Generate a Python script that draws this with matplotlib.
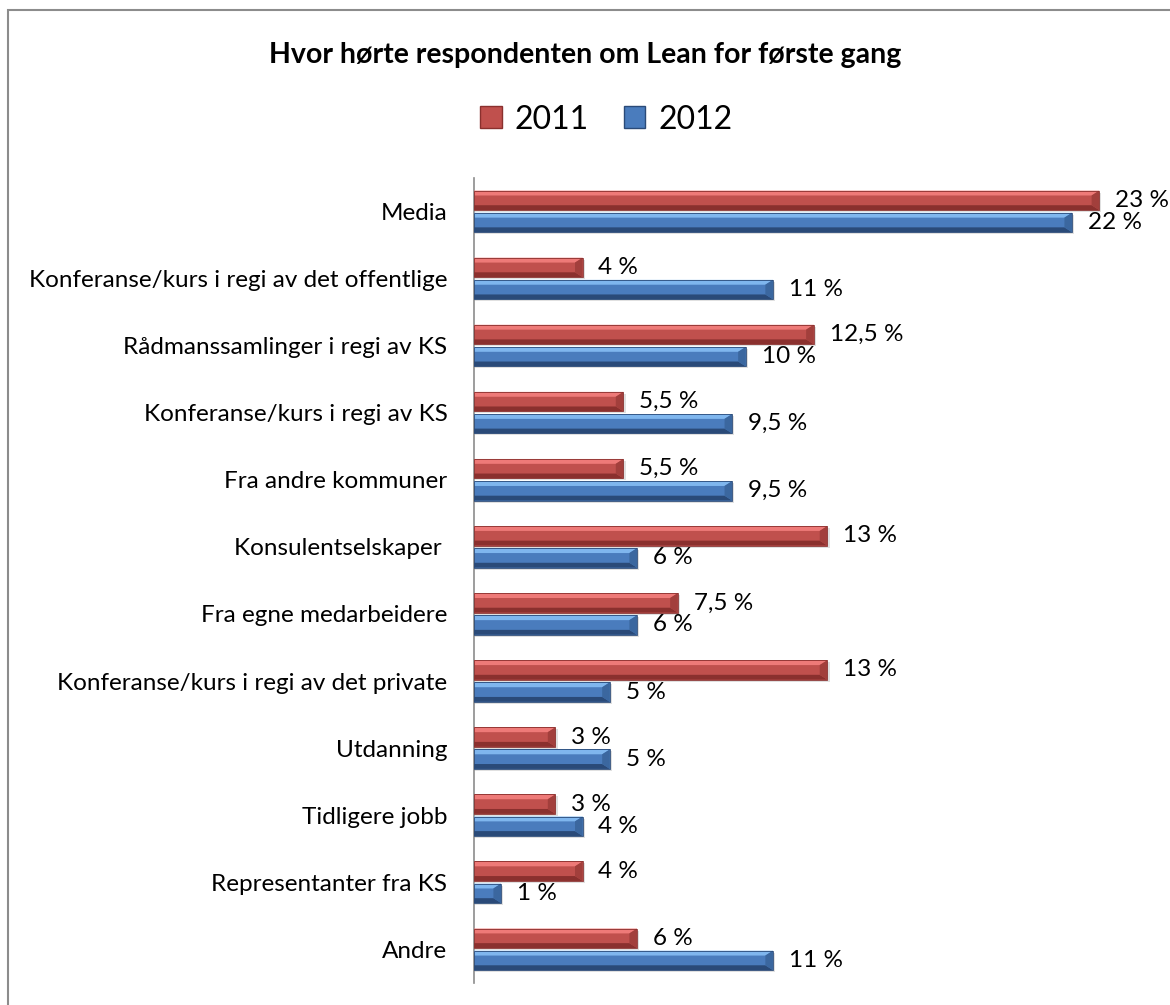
import numpy as np
import matplotlib
matplotlib.use("Agg")
import matplotlib.pyplot as plt
from matplotlib.patches import Polygon, Rectangle, Patch

plt.rcParams['font.family'] = ['Lato', 'DejaVu Sans']

# Svardata, andel i prosent
kategorier = [
    "Media",
    "Konferanse/kurs i regi av det offentlige",
    "Rådmanssamlinger i regi av KS",
    "Konferanse/kurs i regi av KS",
    "Fra andre kommuner",
    "Konsulentselskaper ",
    "Fra egne medarbeidere",
    "Konferanse/kurs i regi av det private",
    "Utdanning",
    "Tidligere jobb",
    "Representanter fra KS",
    "Andre",
]
verdier_2011 = [23, 4, 12.5, 5.5, 5.5, 13, 7.5, 13, 3, 3, 4, 6]
verdier_2012 = [22, 11, 10, 9.5, 9.5, 6, 6, 5, 5, 4, 1, 11]
serier = ["2011", "2012"]

# farger: front, lys topp, mørk bunn, høyre kant
farger = {
    "2011": dict(front="#c0504d", topp="#ee7a78", bunn="#8a302e", kant="#a23f3c"),
    "2012": dict(front="#4a7cbd", topp="#7fb6ee", bunn="#2a4a78", kant="#3b679f"),
}

fig = plt.figure(figsize=(11.7, 10.05), dpi=100)
ax = fig.add_axes([0.405, 0.022, 0.581, 0.801])

bar_h = 0.29
offset = 0.165
dx = 0.28   # skråkant i prosent
y = np.arange(len(kategorier))
fs = 17.5


def tegn_stolpe(ax, x1, yc, h, f):
    ytop = yc - h / 2
    ybot = yc + h / 2
    dy = h * 0.25
    d = min(dx, x1 * 0.5)
    # skygge
    ax.add_patch(Rectangle((0, ytop + 0.03), x1 + 0.08, h, facecolor="#000000",
                           alpha=0.12, edgecolor="none", zorder=1))
    ax.add_patch(Rectangle((0, ytop), x1, h, facecolor=f["front"],
                           edgecolor="none", zorder=2))
    ax.add_patch(Polygon([(0, ytop), (x1, ytop), (x1 - d, ytop + dy), (0, ytop + dy)],
                         closed=True, facecolor=f["topp"], edgecolor="none", zorder=3))
    ax.add_patch(Polygon([(0, ybot), (x1, ybot), (x1 - d, ybot - dy), (0, ybot - dy)],
                         closed=True, facecolor=f["bunn"], edgecolor="none", zorder=3))
    ax.add_patch(Polygon([(x1, ytop), (x1, ybot), (x1 - d, ybot - dy), (x1 - d, ytop + dy)],
                         closed=True, facecolor=f["kant"], edgecolor="none", zorder=3))
    ax.add_patch(Rectangle((0, ytop), x1, h, facecolor="none",
                           edgecolor=f["bunn"], linewidth=0.6, zorder=4))


def fmt(v):
    s = f"{v:g}".replace(".", ",")
    return f"{s} %"


for navn, verdier, sign in [("2011", verdier_2011, -1), ("2012", verdier_2012, 1)]:
    for i, v in enumerate(verdier):
        yc = y[i] + sign * offset
        tegn_stolpe(ax, v, yc, bar_h, farger[navn])
        ax.text(v + 0.58, yc, fmt(v), ha="left", va="center",
                fontsize=fs, color="black")

ax.set_xlim(0, 25)
ax.set_ylim(len(kategorier) - 0.5, -0.5)
ax.set_yticks(y)
ax.set_yticklabels(kategorier, fontsize=fs)
ax.tick_params(axis="y", length=0, pad=19)
ax.set_xticks([])
for side in ["top", "right", "bottom"]:
    ax.spines[side].set_visible(False)
ax.spines["left"].set_color("#8c8c8c")
ax.spines["left"].set_linewidth(1.2)
ax.set_facecolor("none")

fig.text(0.5, 0.945, "Hvor hørte respondenten om Lean for første gang",
         ha="center", va="center", fontsize=20.5, fontweight="bold")

handles = [Patch(facecolor=farger[s]["front"], edgecolor=farger[s]["bunn"]) for s in serier]
fig.legend(handles, serier, loc="center", bbox_to_anchor=(0.518, 0.881), ncol=2,
           frameon=False, fontsize=23, handlelength=0.68, handleheight=0.68,
           handletextpad=0.4, columnspacing=1.1)

# ramme rundt diagrammet (går ut over høyre og nedre kant)
fig.patches.append(Rectangle((0.007, -0.1), 1.2, 1.09, transform=fig.transFigure,
                             facecolor="none", edgecolor="#8c8c8c", linewidth=1.5))

fig.savefig("out.png", dpi=100)
